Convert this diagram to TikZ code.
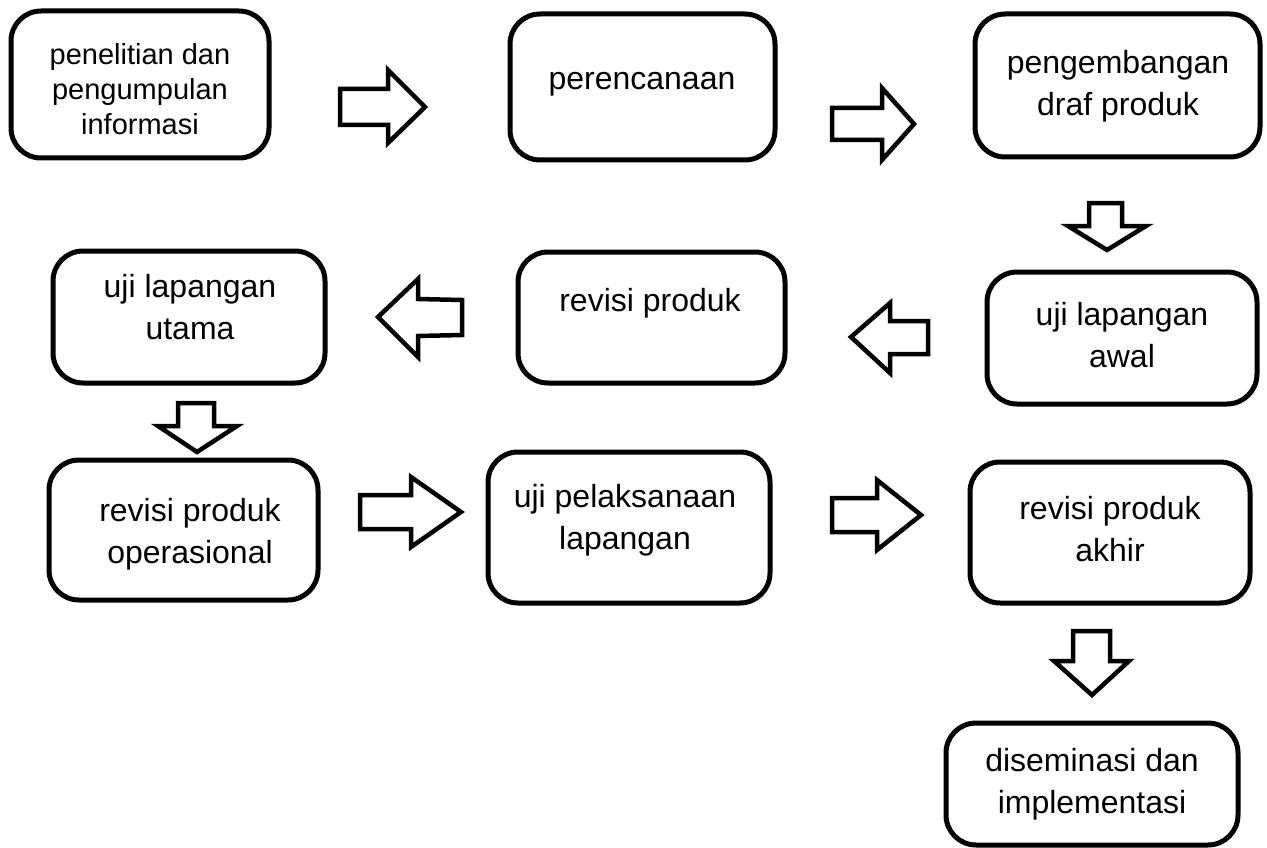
\documentclass[tikz,border=0pt]{standalone}
\usepackage{fontspec}
\setmainfont{Liberation Sans}
\begin{document}
\begin{tikzpicture}[x=1pt,y=-1pt,
  box/.style={draw=black, line width=5pt, rounded corners=30pt, fill=white, inner sep=0pt},
  txt/.style={align=center, font=\fontsize{32}{42}\selectfont, inner sep=0pt},
  txtsmall/.style={align=center, font=\fontsize{29}{35}\selectfont, inner sep=0pt},
  barrow/.style={draw=black, line width=4.5pt, fill=white, line join=miter}]
\useasboundingbox (0,0) rectangle (1267,848);
% boxes
\node[box, minimum width=258pt, minimum height=147pt] (b1) at (140,84.5) {};
\node[box, minimum width=265pt, minimum height=146pt] (b2) at (642.5,87) {};
\node[box, minimum width=285pt, minimum height=143pt] (b3) at (1117.5,85.5) {};
\node[box, minimum width=270pt, minimum height=132pt] (b4) at (1122,338) {};
\node[box, minimum width=267pt, minimum height=131pt] (b5) at (651.5,317.5) {};
\node[box, minimum width=272pt, minimum height=132pt] (b6) at (189,317) {};
\node[box, minimum width=269pt, minimum height=140pt] (b7) at (183.5,530) {};
\node[box, minimum width=282pt, minimum height=151pt] (b8) at (629,527.5) {};
\node[box, minimum width=280pt, minimum height=141pt] (b9) at (1110,532.5) {};
\node[box, minimum width=292pt, minimum height=122pt] (b10) at (1092,784) {};
% texts
\node[txtsmall] (t1) at (140,89) {penelitian dan\\pengumpulan\\informasi};
\node[txt] (t2) at (642,84) {perencanaan};
\node[txt] (t3) at (1118,86) {pengembangan\\draf produk};
\node[txt] (t4) at (1122,335) {uji lapangan\\awal};
\node[txt] (t5) at (650,303) {revisi produk};
\node[txt] (t6) at (190,307) {uji lapangan\\utama};
\node[txt] (t7) at (190,534) {revisi produk\\operasional};
\node[txt] (t8) at (625,520) {uji pelaksanaan\\lapangan};
\node[txt] (t9) at (1110,529) {revisi produk\\akhir};
\node[txt] (t10) at (1092,784) {diseminasi dan\\implementasi};
% block arrows
% b1 -> b2
\draw[barrow] (340,89) -- (388,89) -- (388,70) -- (425,107) -- (388,143) -- (388,125) -- (340,125) -- cycle;
% b2 -> b3
\draw[barrow] (832,108) -- (882,108) -- (882,88) -- (914,124) -- (882,160) -- (882,140) -- (832,140) -- cycle;
% b3 -> b4
\draw[barrow] (1089,203) -- (1122,203) -- (1122,226) -- (1146,226) -- (1107,250) -- (1068,226) -- (1089,226) -- cycle;
% b4 -> b5
\draw[barrow] (928,321) -- (890,321) -- (890,303) -- (851,337) -- (890,373) -- (890,354) -- (928,354) -- cycle;
% b5 -> b6
\draw[barrow] (462,300) -- (418,299) -- (418,279) -- (378,317) -- (418,357) -- (418,336) -- (462,335) -- cycle;
% b6 -> b7
\draw[barrow] (178,403) -- (214,403) -- (214,426) -- (237,426) -- (197,452) -- (158,426) -- (178,426) -- cycle;
% b7 -> b8
\draw[barrow] (360,495) -- (411,495) -- (411,477) -- (461,512) -- (411,547) -- (411,529) -- (360,529) -- cycle;
% b8 -> b9
\draw[barrow] (832,498) -- (877,498) -- (877,480) -- (921,515) -- (877,550) -- (877,532) -- (832,532) -- cycle;
% b9 -> b10
\draw[barrow] (1073,631) -- (1110,631) -- (1110,661) -- (1129,661) -- (1092,695) -- (1054,661) -- (1073,661) -- cycle;
\end{tikzpicture}
\end{document}
